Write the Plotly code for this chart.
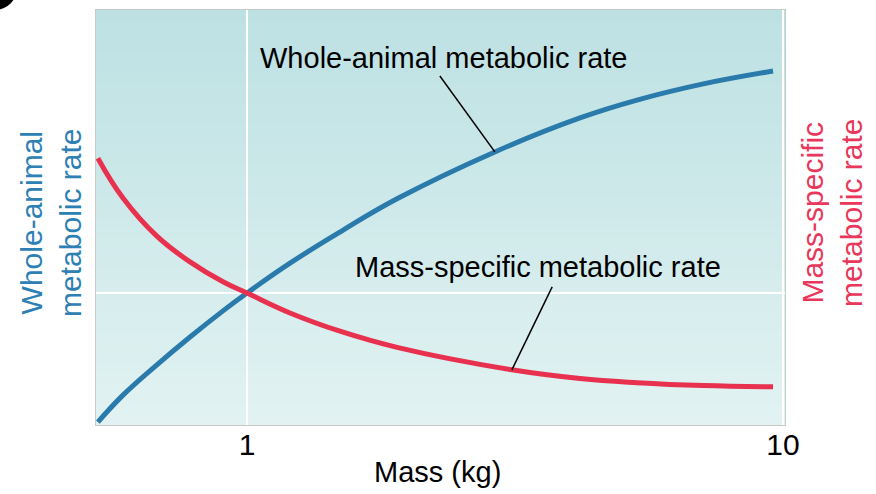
import plotly.graph_objects as go
import numpy as np

# Data (mass in kg, rates in arbitrary units)
mass_blue = [0.527, 0.587, 0.679, 0.783, 0.902, 1.0, 1.203, 1.491, 1.905, 2.90, 4.18, 5.34, 7.10, 9.58]
whole_animal = [0.07, 0.72, 1.45, 2.12, 2.75, 3.18, 3.90, 4.65, 5.45, 6.58, 7.40, 7.83, 8.22, 8.53]

mass_red = [0.527, 0.587, 0.679, 0.783, 0.902, 1.0, 1.203, 1.491, 1.905, 3.12, 4.18, 5.34, 7.10, 9.58]
mass_specific = [6.43, 5.47, 4.55, 3.93, 3.45, 3.18, 2.70, 2.26, 1.87, 1.33, 1.12, 1.02, 0.95, 0.92]

x_tick_vals = [1, 10]
x_tick_text = ["1", "10"]

BLUE = "#2a7aab"
RED = "#e8304f"

fig = go.Figure()

fig.add_trace(go.Scatter(x=mass_blue, y=whole_animal, mode="lines",
                         line=dict(color=BLUE, width=5, shape="spline", smoothing=1.2),
                         showlegend=False, hoverinfo="skip"))
fig.add_trace(go.Scatter(x=mass_red, y=mass_specific, mode="lines",
                         line=dict(color=RED, width=5, shape="spline", smoothing=1.2),
                         showlegend=False, hoverinfo="skip"))

# callout leader lines (ending on the curves)
ib = mass_blue.index(2.90)
ir = mass_red.index(3.12)
fig.add_trace(go.Scatter(x=[mass_blue[ib], 2.29], y=[whole_animal[ib], 8.41], mode="lines",
                         line=dict(color="black", width=1.5), showlegend=False, hoverinfo="skip"))
fig.add_trace(go.Scatter(x=[mass_red[ir], 3.71], y=[mass_specific[ir], 3.33], mode="lines",
                         line=dict(color="black", width=1.5), showlegend=False, hoverinfo="skip"))

FONT = "Liberation Sans, Arial, Helvetica, sans-serif"

annotations = [
    dict(x=0.3657, y=8.84, xref="x", yref="y", text="Whole-animal metabolic rate",
         showarrow=False, xanchor="center", yanchor="middle",
         font=dict(size=29, color="black", family=FONT)),
    dict(x=0.543, y=3.81, xref="x", yref="y", text="Mass-specific metabolic rate",
         showarrow=False, xanchor="center", yanchor="middle",
         font=dict(size=29, color="black", family=FONT)),
    dict(x=(51 - 96) / 689, y=0.487, xref="paper", yref="paper", text="Whole-animal<br>metabolic rate",
         textangle=-90, showarrow=False, xanchor="center", yanchor="middle",
         font=dict(size=30, color="#2d80b3", family=FONT)),
    dict(x=(832 - 96) / 689, y=0.511, xref="paper", yref="paper", text="Mass-specific<br>metabolic rate",
         textangle=-90, showarrow=False, xanchor="center", yanchor="middle",
         font=dict(size=30, color="#e8375a", family=FONT)),
    dict(x=(437 - 96) / 689, y=(425 - 472) / 415, xref="paper", yref="paper", text="Mass (kg)",
         showarrow=False, xanchor="center", yanchor="middle",
         font=dict(size=29, color="black", family=FONT)),
]

# background vertical gradient
shapes = []
n = 40
top = np.array([189, 225, 227])
bot = np.array([226, 242, 242])
for i in range(n):
    f = i / (n - 1)
    c = (top * (1 - f) + bot * f).round().astype(int)
    shapes.append(dict(type="rect", xref="paper", yref="paper",
                       x0=0, x1=1, y0=max(0, 1 - (i + 1) / n - 0.004), y1=1 - i / n,
                       fillcolor=f"rgb({c[0]},{c[1]},{c[2]})", line=dict(width=0), layer="below"))
# black panel-label circle at top-left corner
shapes.append(dict(type="circle", xref="paper", yref="paper", xsizemode="pixel", ysizemode="pixel",
                   xanchor=(-5 - 96) / 689, yanchor=(425 + 12) / 415, x0=-22, x1=22, y0=-22, y1=22,
                   fillcolor="black", line=dict(width=0)))

fig.update_layout(
    width=876, height=494,
    margin=dict(l=96, r=91, t=10, b=69, autoexpand=False),
    paper_bgcolor="white",
    plot_bgcolor="rgba(0,0,0,0)",
    shapes=shapes,
    annotations=annotations,
    font=dict(family=FONT, color="black"),
    xaxis=dict(type="log", range=[-0.2817, 1.0037], tickvals=x_tick_vals, ticktext=x_tick_text,
               tickfont=dict(size=30), ticklabelstandoff=-7, automargin=False,
               showgrid=True, gridcolor="white", gridwidth=2,
               showline=True, linecolor="#c8c8c8", linewidth=1, mirror=True,
               ticks="", zeroline=False),
    yaxis=dict(range=[0, 10], tickvals=[whole_animal[mass_blue.index(1.0)]], showticklabels=False,
               automargin=False,
               showgrid=True, gridcolor="white", gridwidth=2,
               showline=True, linecolor="#c8c8c8", linewidth=1, mirror=True,
               ticks="", zeroline=False),
)

fig.write_html("out.html", config={"displayModeBar": False},
               post_script="document.body.style.margin='0';document.body.style.overflow='hidden';")
